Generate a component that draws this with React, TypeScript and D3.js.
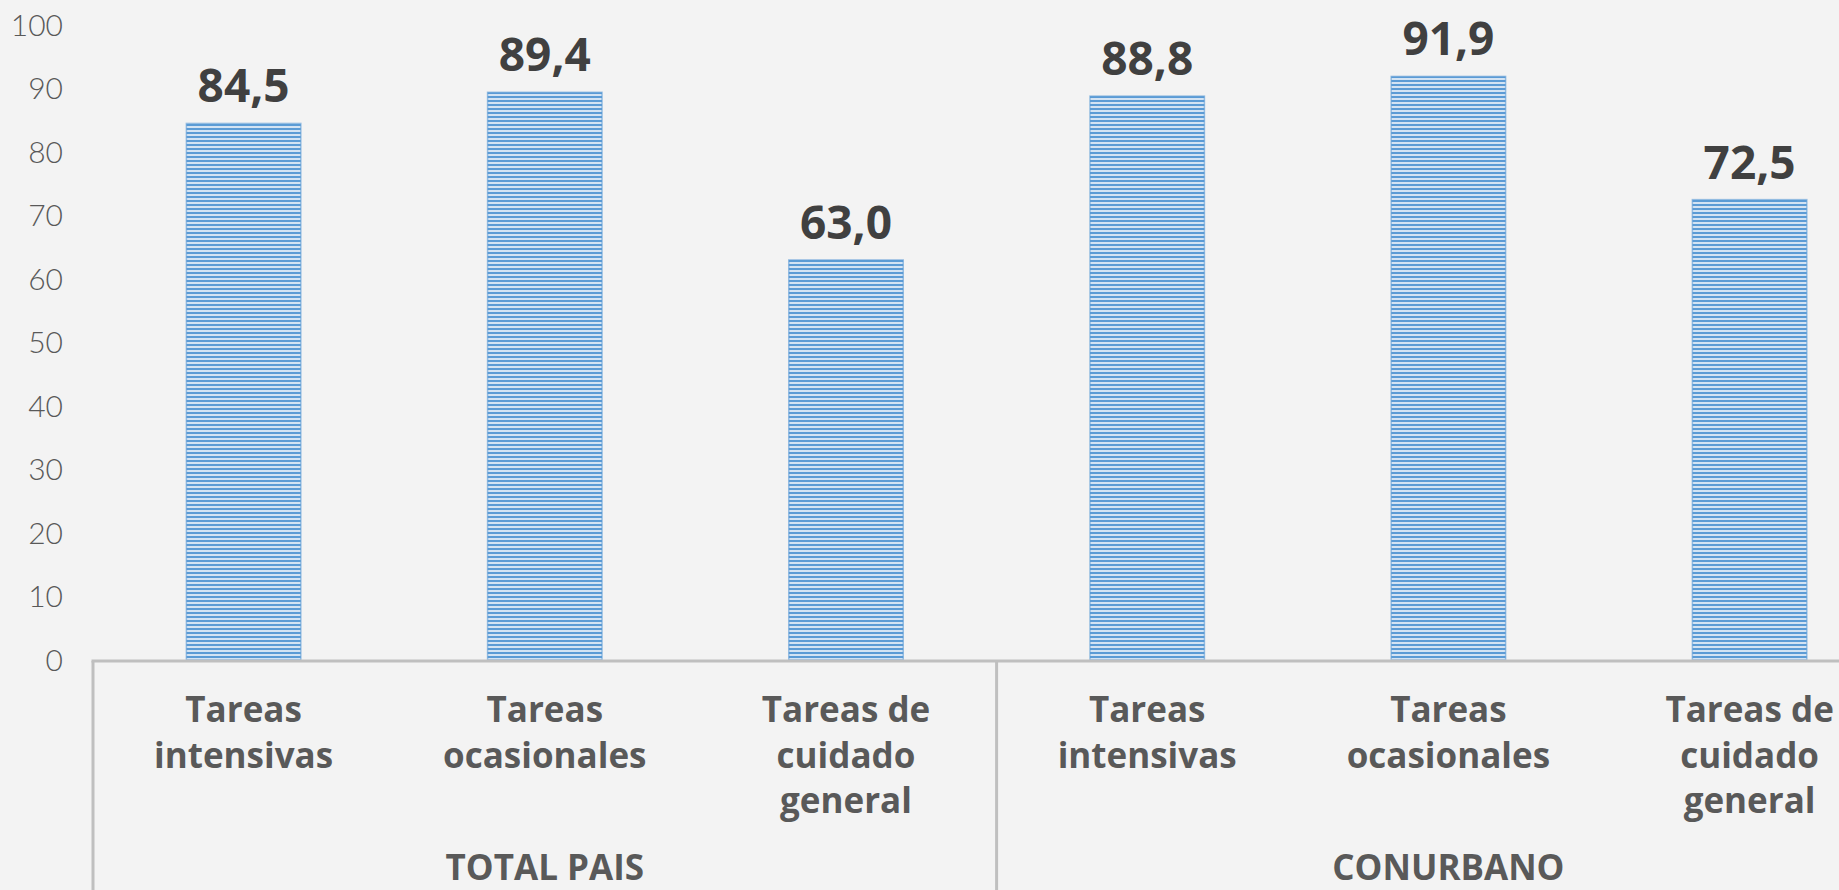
import React from "react";
import * as d3 from "d3";

const groups = ["TOTAL PAIS", "CONURBANO"];
const categories = [
  ["Tareas", "intensivas"],
  ["Tareas", "ocasionales"],
  ["Tareas de", "cuidado", "general"],
];
const valuesTotalPais = [84.5, 89.4, 63.0];
const valuesConurbano = [88.8, 91.9, 72.5];
const yTicks = [0, 10, 20, 30, 40, 50, 60, 70, 80, 90, 100];

const W = 1839;
const H = 890;

export default function App() {
  const rows = groups.flatMap((g, gi) =>
    categories.map((c, ci) => ({
      group: g,
      gi,
      label: c,
      key: `${gi}-${ci}`,
      value: (gi === 0 ? valuesTotalPais : valuesConurbano)[ci],
    }))
  );
  const x = d3
    .scaleBand<string>()
    .domain(rows.map((r) => r.key))
    .range([93, 93 + 6 * 301.2])
    .paddingInner(0)
    .paddingOuter(0);
  const y = d3.scaleLinear().domain([0, 100]).range([660, 25]);
  const step = x.bandwidth();
  const barW = step * 0.38;
  const fmt = (v: number) => v.toFixed(1).replace(".", ",");
  const axisColor = "#bfbfbf";
  const groupStart = (gi: number) => x(rows[gi * 3].key)!;
  const groupEnd = (gi: number) => x(rows[gi * 3 + 2].key)! + step;

  return (
    <svg
      width={W}
      height={H}
      style={{ position: "absolute", left: 0, top: 0, background: "#f3f3f3" }}
    >
      <defs>
        <pattern id="stripes" patternUnits="userSpaceOnUse" width={8} height={4}>
          <rect x={0} y={0} width={8} height={4} fill="#d3e3f3" />
          <rect x={0} y={0} width={8} height={2} fill="#5b9bd5" />
        </pattern>
      </defs>
      <rect x={0} y={0} width={W} height={H} fill="#f3f3f3" />
      {yTicks.map((t) => (
        <text
          key={t}
          x={63}
          y={y(t)}
          dy="0.36em"
          textAnchor="end"
          fontFamily="Lato, 'Open Sans', sans-serif"
          fontWeight={300}
          fontSize={30}
          fill="#595959"
        >
          {t}
        </text>
      ))}
      {rows.map((r) => {
        const cx = x(r.key)! + step / 2;
        return (
          <g key={r.key}>
            <rect
              x={cx - barW / 2}
              y={y(r.value)}
              width={barW}
              height={y(0) - y(r.value)}
              fill="url(#stripes)"
              stroke="#5b9bd5"
              strokeOpacity={0.6}
              strokeWidth={1.5}
            />
            <text
              x={cx}
              y={y(r.value) - 21}
              textAnchor="middle"
              fontFamily="'Open Sans', sans-serif"
              fontWeight={700}
              fontSize={46}
              fill="#404040"
            >
              {fmt(r.value)}
            </text>
            {r.label.map((line, li) => (
              <text
                key={li}
                x={cx}
                y={722 + li * 45.7}
                textAnchor="middle"
                fontFamily="'Open Sans', sans-serif"
                fontWeight={700}
                fontSize={35}
                fill="#595959"
              >
                {line}
              </text>
            ))}
          </g>
        );
      })}
      <line x1={91.5} x2={W} y1={661} y2={661} stroke={axisColor} strokeWidth={3} />
      {groups.map((g, gi) => (
        <g key={g}>
          <line
            x1={groupStart(gi)}
            x2={groupStart(gi)}
            y1={661}
            y2={H}
            stroke={axisColor}
            strokeWidth={3}
          />
          <text
            x={(groupStart(gi) + groupEnd(gi)) / 2}
            y={880}
            textAnchor="middle"
            fontFamily="'Open Sans', sans-serif"
            fontWeight={700}
            fontSize={35}
            fill="#595959"
          >
            {g}
          </text>
        </g>
      ))}
    </svg>
  );
}
